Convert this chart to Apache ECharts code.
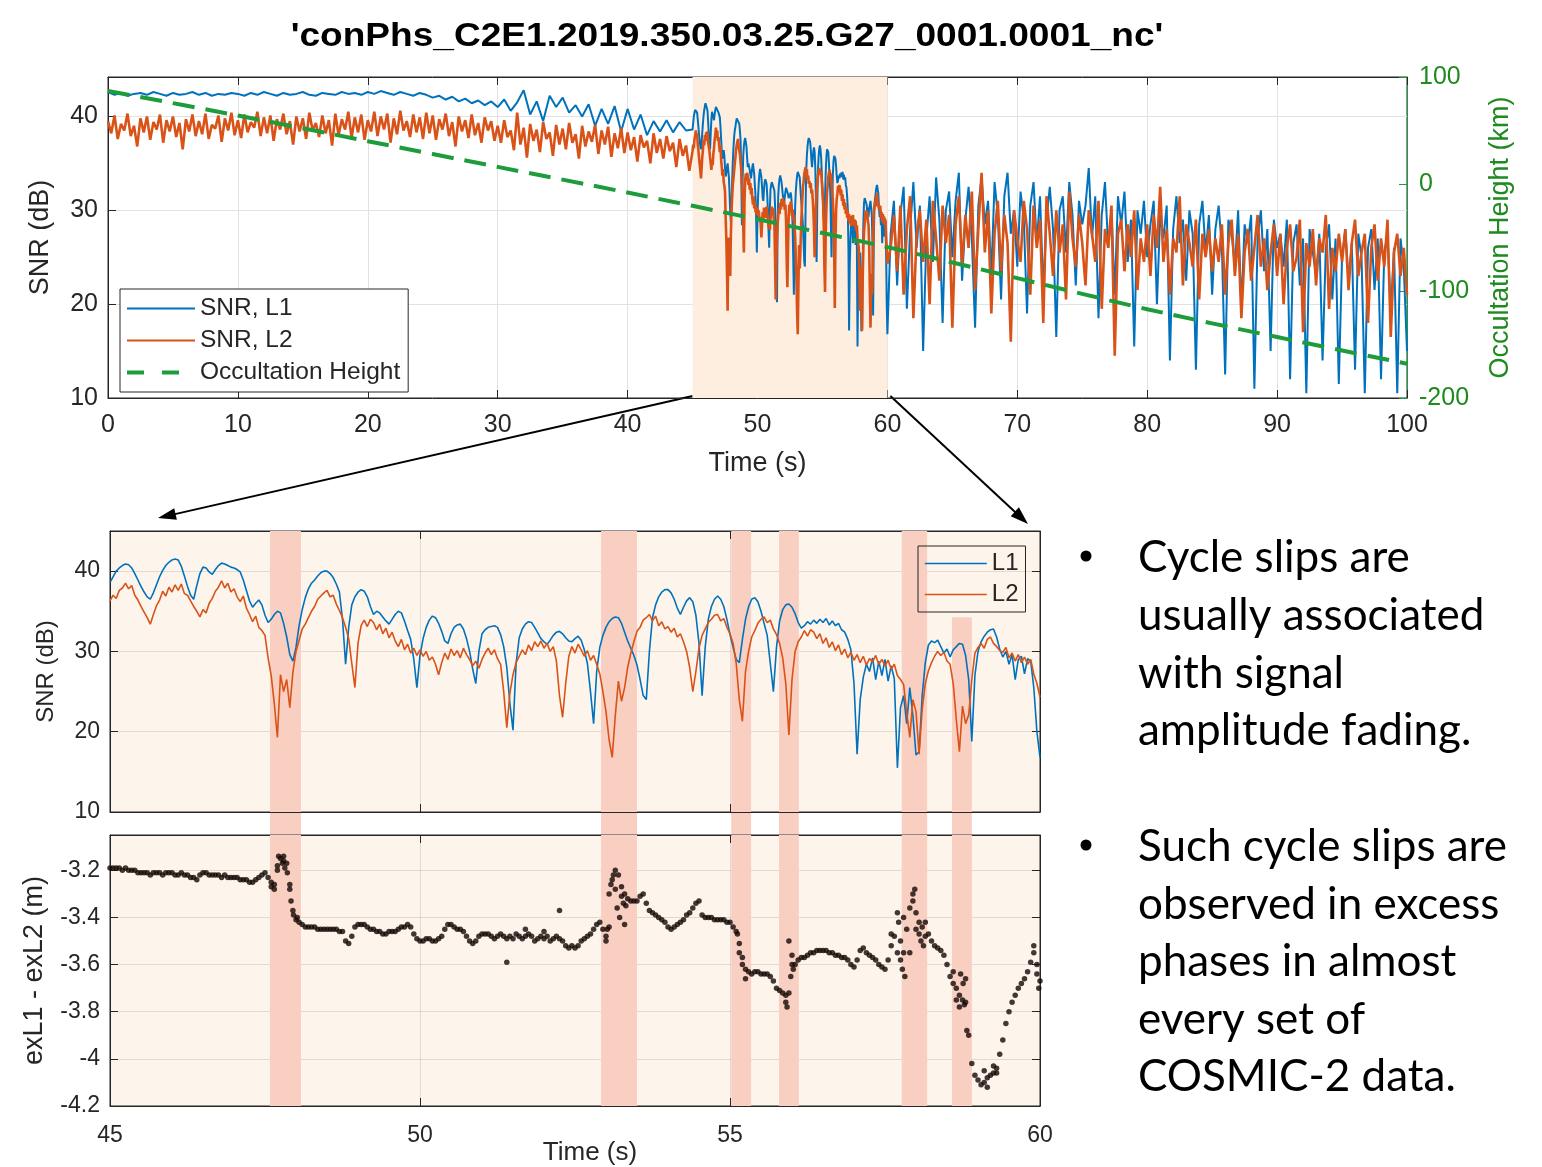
<!DOCTYPE html>
<html><head><meta charset="utf-8">
<script src="https://cdn.jsdelivr.net/npm/echarts@6/dist/echarts.min.js"></script>
<style>html,body{margin:0;padding:0;background:#fff}#c{width:1542px;height:1167px}</style>
</head><body><div id="c"></div>
<script>
const titleText = "'conPhs_C2E1.2019.350.03.25.G27_0001.0001_nc'";
// Top panel, SNR L1 for 0–44.5 s (every 0.5 s)
const topL1Early = [
42.6,42.3,42.5,42.2,42.4,42.5,42.3,42.6,42.4,42.2,42.5,42.3,42.4,42.6,42.3,42.5,42.2,42.4,42.3,42.5,
42.4,42.2,42.5,42.3,42.6,42.4,42.2,42.5,42.3,42.4,42.6,42.3,42.2,42.5,42.4,42.3,42.6,42.4,42.5,42.3,
42.6,42.4,42.7,42.5,42.3,42.6,42.4,42.2,42.5,42.3,42.0,42.2,41.8,42.1,41.6,41.9,41.4,41.7,41.2,41.6,
41.0,41.8,40.6,41.5,42.8,40.2,41.6,39.5,42.2,41.0,42.0,40.4,41.2,40.0,41.3,39.0,40.8,39.2,41.1,38.4,
40.8,38.6,40.2,38.0,39.5,38.4,39.6,38.3,39.4,38.5];
// Top panel, SNR L2 for 0–44.75 s (every 0.25 s)
const topL2Early = [
39.5,38.2,40.1,37.6,39.2,38.5,40.3,37.9,39.0,36.8,39.8,38.3,40.0,37.5,39.4,38.6,40.2,37.2,39.6,38.4,
40.0,37.8,39.3,36.5,39.7,38.4,40.2,37.9,39.5,38.1,40.3,37.6,39.1,38.7,40.1,37.3,39.8,38.5,40.4,38.0,
39.6,37.7,40.2,38.3,39.4,38.8,40.5,37.9,39.9,38.2,40.1,37.4,39.7,38.6,40.3,38.1,39.5,37.0,40.0,38.4,
39.8,37.6,40.4,38.5,39.3,37.8,40.1,38.2,39.6,36.9,40.3,38.0,39.7,38.6,40.5,37.7,39.9,38.3,40.2,37.5,
39.6,38.4,40.5,37.9,40.0,38.6,40.3,37.2,39.8,38.1,40.6,38.5,39.5,37.8,40.2,38.3,39.9,37.6,40.4,38.2,
40.1,37.5,39.7,38.6,40.3,37.9,39.4,36.8,40.0,38.4,39.6,37.7,40.2,38.0,39.3,37.2,39.9,38.5,39.5,37.4,
39.0,37.2,39.6,37.8,38.5,36.4,40.4,37.0,38.8,35.6,39.2,37.4,38.6,36.2,39.4,37.6,38.3,35.8,39.1,37.0,
38.7,36.5,39.3,37.2,38.1,35.5,39.0,36.8,38.4,37.3,39.1,36.0,38.5,37.0,38.9,35.7,38.2,36.6,38.8,36.1,
38.3,36.4,37.8,35.2,38.0,36.7,37.4,35.0,38.2,36.1,37.6,35.5,37.9,36.3,37.2,34.6,37.6,35.8,36.9,34.2];
// Top panel, SNR L1 for 60.25–100 s (every 0.25 s)
const topL1Late = [
27.5,31.0,22.0,29.5,32.5,19.5,28.0,33.0,26.0,30.5,15.0,27.0,31.5,24.5,33.5,29.0,18.0,30.0,32.0,25.0,
31.0,34.0,22.5,29.0,32.5,27.0,17.5,30.5,33.5,28.5,31.0,23.0,33.0,29.5,20.5,31.5,34.0,27.5,30.0,24.0,
32.0,29.0,19.0,30.5,33.0,26.5,31.5,21.5,29.0,32.5,28.0,16.5,30.0,31.5,25.5,33.0,29.5,22.0,31.0,28.5,
30.5,34.5,27.0,31.5,18.5,29.5,33.0,26.0,30.0,21.0,31.5,28.5,32.0,24.5,29.0,15.5,30.0,27.5,31.0,25.0,
28.5,31.0,20.0,29.5,27.0,30.5,14.0,28.0,31.5,26.5,29.0,22.5,30.0,27.5,13.0,28.5,31.0,25.5,29.5,21.0,
28.0,30.5,26.0,12.5,29.0,27.5,24.0,30.0,19.5,28.5,26.5,29.5,11.0,27.0,30.0,23.5,28.0,15.0,29.0,26.0,
27.5,24.0,29.0,12.0,26.5,28.5,22.0,27.0,10.5,28.0,25.5,23.0,27.5,14.0,26.0,28.5,20.5,27.0,11.5,25.0,
28.0,22.5,26.5,13.0,27.5,25.0,10.5,26.0,28.0,21.5,27.0,12.0,25.5,27.5,19.0,26.0,10.5,27.0,24.0,15.0];
// Top panel, SNR L2 for 60.25–100 s (every 0.25 s)
const topL2Late = [
26.0,29.5,23.5,30.5,21.0,28.0,31.5,18.5,27.5,30.0,24.5,29.0,20.0,31.0,27.0,22.5,30.5,26.5,29.5,17.5,
28.5,31.5,24.0,29.5,26.0,32.0,21.5,28.0,34.0,25.5,30.0,19.0,27.5,31.0,23.5,29.5,26.5,16.0,30.0,27.0,
24.5,31.0,28.0,21.0,30.5,26.0,29.0,18.0,31.5,27.5,23.0,30.0,25.5,28.5,20.5,32.0,27.0,24.0,29.5,26.5,
22.0,30.0,27.5,24.5,31.0,19.5,28.0,26.0,30.5,14.5,27.5,29.0,23.5,28.5,25.0,30.0,21.5,27.0,24.5,28.5,
23.0,29.5,26.0,32.5,24.5,28.0,21.0,27.0,25.5,31.5,22.0,28.5,26.5,24.0,29.0,20.5,27.5,25.0,28.0,23.5,
27.0,24.5,28.5,21.0,26.5,29.0,23.0,27.5,18.5,25.5,28.0,22.5,26.0,29.5,24.0,27.0,21.5,25.5,28.5,23.0,
27.5,20.0,26.0,28.5,23.5,25.0,29.0,17.0,26.5,24.0,28.0,22.0,27.0,25.5,29.5,19.5,26.0,23.5,27.5,24.5,
28.0,21.5,26.5,29.0,23.0,25.5,27.5,18.0,26.0,28.5,22.5,27.0,24.0,29.0,16.5,25.5,27.5,23.0,26.0,21.0];
// Occultation height (km)
const heightTime = [0,10,20,30,40,50,60,70,80,90,100];
const heightKm = [87,64,40,16,-8,-33,-59,-88,-117,-143,-168];
// Zoomed window 45–60 s (every 0.05 s)
const zoomL1 = [
38.6,39.3,40.0,40.4,40.7,40.9,40.8,40.4,39.7,38.9,38.1,37.4,36.8,36.5,37.3,38.3,39.3,40.1,40.7,41.1,
41.4,41.5,41.4,40.6,39.4,38.1,37.0,36.5,38.2,39.7,40.5,40.4,39.9,39.6,40.2,40.7,41.0,40.9,40.7,40.5,
40.4,40.2,39.9,38.9,37.6,36.3,35.5,36.0,36.4,35.8,34.5,33.6,34.0,34.6,35.0,34.8,33.5,31.8,29.6,28.8,
30.5,33.2,35.2,36.7,37.8,38.5,38.9,39.4,39.8,40.0,40.0,39.7,39.2,38.4,37.4,34.0,28.4,33.0,35.8,36.8,
37.4,37.7,37.5,36.8,35.6,34.6,35.0,34.8,34.3,33.8,33.4,34.0,34.6,35.0,34.8,33.8,32.6,31.5,29.0,25.5,
29.5,31.6,33.0,33.9,34.4,34.2,33.5,32.5,31.3,31.0,32.2,33.0,33.3,33.4,32.8,31.6,30.0,27.8,26.0,30.0,
32.2,32.7,33.0,33.1,33.2,33.0,32.1,30.6,28.0,23.5,20.2,28.5,31.7,32.8,33.4,33.7,33.6,33.0,32.3,31.6,
31.2,30.9,31.4,32.0,32.4,32.5,32.2,31.7,31.3,31.2,31.6,31.9,31.4,30.2,28.5,25.0,21.0,27.5,30.5,32.0,
33.0,33.7,34.1,34.3,34.2,33.5,32.4,31.3,30.4,29.5,28.3,26.5,24.5,24.0,30.0,34.2,35.8,36.8,37.4,37.7,
37.7,37.3,36.5,35.4,34.6,35.5,36.3,36.7,36.2,34.5,31.0,24.5,30.5,34.0,35.6,36.5,36.9,36.5,35.6,34.0,
32.1,30.5,29.0,28.6,31.5,34.0,35.6,36.5,36.7,36.2,35.0,33.5,32.0,28.5,25.0,30.5,33.8,35.2,35.8,35.9,
35.5,34.7,33.6,32.9,33.2,33.7,33.4,33.9,33.5,34.0,33.6,34.1,33.3,33.8,33.2,33.5,32.7,32.4,31.5,30.2,
26.0,17.2,24.0,26.8,28.4,27.5,29.2,26.5,28.8,27.0,29.0,26.3,28.2,26.6,15.5,23.0,24.5,21.0,25.5,22.0,
17.1,17.5,24.5,28.6,30.8,31.3,31.1,31.4,30.6,29.8,30.3,29.3,30.2,30.6,31.0,30.9,29.5,26.5,18.8,27.0,
30.0,31.2,31.9,32.4,32.7,32.8,31.8,30.3,29.3,30.0,28.4,29.6,26.5,29.0,29.4,27.2,29.1,28.8,25.5,20.0,16.8];
const zoomL2 = [
36.3,37.0,36.6,37.6,37.9,38.5,37.8,38.2,37.0,36.4,35.6,34.9,34.2,33.4,34.6,35.7,36.4,37.5,36.9,38.0,
37.4,38.3,37.6,38.4,37.2,37.0,36.3,35.6,35.0,34.3,35.2,34.8,36.0,36.6,37.5,38.0,38.8,37.9,38.5,37.4,
37.8,36.8,36.2,36.9,35.4,34.6,33.7,34.4,33.0,32.6,32.0,29.2,27.0,23.5,19.3,27.1,25.0,26.5,23.0,27.4,
30.0,31.4,32.8,33.4,34.2,35.0,35.6,36.5,36.9,37.3,37.6,36.8,37.0,35.9,35.1,34.2,33.0,31.6,28.5,25.5,
31.0,33.2,33.9,33.1,34.0,33.6,32.7,33.4,32.2,32.9,31.7,32.4,31.3,30.6,31.5,30.2,30.9,29.8,30.4,29.5,
30.2,29.4,30.0,28.9,29.3,28.4,27.1,28.6,29.8,29.0,30.3,29.5,30.1,29.2,30.4,29.6,29.0,28.2,28.8,27.9,
29.0,29.8,30.4,29.6,30.2,29.1,28.4,25.0,20.5,24.8,27.1,28.6,29.4,30.2,29.6,30.8,30.1,31.2,30.6,31.3,
30.4,31.0,30.0,30.6,28.8,24.5,21.8,26.0,29.4,30.6,29.8,30.9,30.2,29.4,30.1,28.9,29.5,28.4,27.2,25.0,
22.5,19.0,16.8,22.0,26.3,23.8,25.5,28.0,29.8,31.2,32.5,33.0,33.9,34.2,34.6,33.8,34.4,33.2,33.7,32.8,
33.1,32.4,32.9,31.8,32.2,31.2,30.0,28.0,25.0,27.5,30.4,32.0,32.8,33.6,34.0,34.5,34.6,33.8,34.1,33.0,
32.2,31.0,28.5,24.0,21.3,27.5,30.0,31.8,32.6,33.5,34.0,34.3,33.6,33.9,32.8,32.1,31.0,29.2,26.0,19.6,
26.5,30.0,31.2,31.8,32.6,31.9,32.7,32.4,31.6,32.2,31.0,31.7,30.5,31.2,30.1,30.8,29.6,30.3,29.2,29.9,
28.9,29.6,28.6,29.4,28.3,29.1,28.7,29.5,28.4,29.0,28.2,28.9,27.8,28.4,27.0,26.5,25.9,22.4,19.3,24.0,
22.5,17.2,22.8,26.0,27.6,28.6,29.4,30.0,29.5,29.9,28.8,28.4,26.0,21.5,17.5,23.2,21.0,22.1,26.5,29.8,
30.5,31.0,30.4,31.5,31.8,31.0,30.6,30.1,29.9,30.5,29.2,29.8,28.8,29.6,28.6,29.3,28.4,29.0,27.2,26.0,24.3];
// exL1 - exL2 (m), 45–60 s every 0.05 s
const phaseDiff = [
-3.19,-3.19,-3.19,-3.19,-3.2,-3.19,-3.2,-3.2,-3.2,-3.21,-3.21,-3.21,-3.21,-3.22,-3.21,-3.21,-3.21,-3.22,-3.21,-3.21,
-3.21,-3.22,-3.22,-3.21,-3.22,-3.22,-3.23,-3.23,-3.24,-3.22,-3.21,-3.21,-3.22,-3.22,-3.22,-3.22,-3.23,-3.22,-3.23,-3.23,
-3.23,-3.23,-3.24,-3.24,-3.24,-3.25,-3.25,-3.24,-3.23,-3.22,-3.21,-3.23,-3.25,-3.26,-3.2,-3.15,-3.16,-3.17,-3.26,-3.37,
-3.41,-3.42,-3.43,-3.44,-3.44,-3.44,-3.44,-3.45,-3.45,-3.45,-3.45,-3.45,-3.45,-3.45,-3.46,-3.46,-3.5,-3.51,-3.48,-3.44,
-3.43,-3.43,-3.43,-3.44,-3.45,-3.45,-3.46,-3.46,-3.47,-3.47,-3.46,-3.46,-3.46,-3.45,-3.44,-3.44,-3.43,-3.44,-3.47,-3.49,
-3.5,-3.5,-3.49,-3.49,-3.5,-3.5,-3.49,-3.48,-3.45,-3.43,-3.43,-3.44,-3.45,-3.45,-3.46,-3.48,-3.5,-3.51,-3.5,-3.48,
-3.47,-3.47,-3.47,-3.48,-3.49,-3.48,-3.47,-3.48,-3.49,-3.48,-3.49,-3.47,-3.48,-3.49,-3.48,-3.47,-3.48,-3.5,-3.49,-3.48,
-3.49,-3.48,-3.5,-3.49,-3.48,-3.49,-3.5,-3.52,-3.53,-3.52,-3.53,-3.52,-3.5,-3.49,-3.48,-3.47,-3.45,-3.43,-3.42,-3.45,
-3.48,-3.44,-3.24,-3.2,-3.22,-3.27,-3.3,-3.32,-3.33,-3.33,-3.33,-3.31,-3.3,-3.34,-3.37,-3.38,-3.39,-3.4,-3.41,-3.42,
-3.44,-3.45,-3.44,-3.43,-3.42,-3.41,-3.39,-3.38,-3.36,-3.34,-3.33,-3.39,-3.4,-3.4,-3.4,-3.41,-3.41,-3.41,-3.41,-3.42,
-3.42,-3.44,-3.46,-3.51,-3.57,-3.62,-3.63,-3.64,-3.63,-3.63,-3.64,-3.64,-3.64,-3.65,-3.67,-3.7,-3.71,-3.72,-3.73,-3.72,
-3.6,-3.6,-3.58,-3.57,-3.57,-3.56,-3.55,-3.55,-3.54,-3.54,-3.54,-3.54,-3.55,-3.55,-3.56,-3.56,-3.57,-3.57,-3.58,-3.6,
-3.61,-3.58,-3.54,-3.53,-3.55,-3.56,-3.57,-3.58,-3.6,-3.61,-3.62,-3.58,-3.52,-3.48,-3.55,-3.5,-3.4,-3.45,-3.55,-3.3,
-3.45,-3.47,-3.44,-3.48,-3.47,-3.5,-3.52,-3.53,-3.54,-3.56,-3.6,-3.65,-3.68,-3.7,-3.73,-3.75,-3.76,-3.9,-4.02,-4.07,
-4.09,-4.11,-4.1,-4.08,-4.07,-4.06,-4.04,-3.98,-3.92,-3.85,-3.8,-3.76,-3.73,-3.7,-3.68,-3.66,-3.63,-3.59,-3.55,-3.6,-3.67];
// Scattered extra phase points during slips [time, value]
const phaseOutliers = [
[47.6,-3.27],[47.65,-3.28],[47.7,-3.18],[47.72,-3.14],[47.78,-3.17],[47.8,-3.14],[47.82,-3.19],[47.86,-3.21],
[47.9,-3.28],[47.92,-3.33],[47.96,-3.39],[48.02,-3.40],[51.4,-3.59],[52.25,-3.37],[51.7,-3.45],[52.0,-3.46],
[53.0,-3.50],[53.02,-3.45],[53.05,-3.3],[53.08,-3.26],[53.12,-3.22],[53.15,-3.28],[53.18,-3.36],[53.22,-3.4],
[53.25,-3.31],[53.28,-3.34],[53.32,-3.35],[53.3,-3.43],[55.12,-3.47],[55.15,-3.55],[55.2,-3.6],[55.25,-3.66],
[55.9,-3.76],[55.92,-3.78],[55.95,-3.50],[55.98,-3.65],[56.02,-3.62],[56.0,-3.56],
[57.6,-3.47],[57.7,-3.38],[57.72,-3.42],[57.75,-3.58],[57.78,-3.62],[57.8,-3.55],[57.82,-3.65],[57.9,-3.36],
[57.95,-3.33],[57.98,-3.28],[58.0,-3.38],[58.05,-3.42],[58.08,-3.5],[58.12,-3.52],[58.15,-3.42],
[58.6,-3.63],[58.65,-3.75],[58.7,-3.78],[58.72,-3.64],[58.76,-3.68],[58.78,-3.77],[58.8,-3.66],[58.82,-3.88],
[59.1,-4.05],[59.15,-4.12],[59.25,-4.03],[59.3,-4.06],[59.9,-3.52],[59.95,-3.64],[59.98,-3.7]];
// Cycle slip intervals (s)
const slipBands = [[47.58,48.08],[52.92,53.5],[55.02,55.34],[55.79,56.11],[57.77,58.18],[58.58,58.9]];
const lastBandTopSNR = 34.25;
const bulletGroup1 = ['Cycle slips are','usually associated','with signal','amplitude fading.'];
const bulletGroup2 = ['Such cycle slips are','observed in excess','phases in almost','every set of','COSMIC-2 data.'];

function seq(start, step, arr){ return arr.map((v,i)=>[+(start+i*step).toFixed(2), v]); }
const topL1 = seq(0,0.5,topL1Early).concat(seq(45,0.05,zoomL1), seq(60.25,0.25,topL1Late));
const topL2 = seq(0,0.25,topL2Early).concat(seq(45,0.05,zoomL2), seq(60.25,0.25,topL2Late));
const heightData = heightTime.map((t,i)=>[t, heightKm[i]]);
const midL1 = seq(45,0.05,zoomL1), midL2 = seq(45,0.05,zoomL2);
const phaseData = seq(45,0.05,phaseDiff).concat(phaseOutliers);

const FONT = 'Liberation Sans';
const AX = '#262626';
const BLUE = '#0072BD', ORANGE = '#D95319', GREEN = '#1c9c3a', GREENTXT = '#1f8a1f';
const PEACH = '#fdf5eb', SLIP = '#f9cfc1';

function xa(grid, min, max, interval, pos, opts){
  return Object.assign({
    gridIndex: grid, type:'value', min, max, interval, position: pos,
    axisLine:{show:true, onZero:false, lineStyle:{color:AX, width:1}},
    axisTick:{show:true, inside:true, length:8, lineStyle:{color:AX}},
    axisLabel:{show:false},
    splitLine:{show:false}
  }, opts||{});
}
function ya(grid, min, max, interval, pos, opts){
  return Object.assign({
    gridIndex: grid, type:'value', min, max, interval, position: pos,
    axisLine:{show:true, onZero:false, lineStyle:{color:AX, width:1}},
    axisTick:{show:true, inside:true, length:8, lineStyle:{color:AX}},
    axisLabel:{show:false},
    splitLine:{show:false}
  }, opts||{});
}
const gridSplit = {show:true, lineStyle:{color:'#e2e2e2', width:1}};
const peachSplit = {show:true, lineStyle:{color:'rgba(0,0,0,0.11)', width:1}};

const chart = echarts.init(document.getElementById('c'));
const option = {
  animation:false,
  backgroundColor:'#fff',
  grid:[
    {left:108, top:77, width:1299, height:321, show:true, backgroundColor:'#fff', borderColor:AX, borderWidth:1, outerBoundsMode:'none', containLabel:false},
    {left:110, top:531, width:930, height:281, show:true, backgroundColor:PEACH, borderColor:AX, borderWidth:1, outerBoundsMode:'none', containLabel:false},
    {left:110, top:835, width:930, height:271, show:true, backgroundColor:PEACH, borderColor:AX, borderWidth:1, outerBoundsMode:'none', containLabel:false}
  ],
  xAxis:[
    xa(0,0,100,10,'bottom',{axisLabel:{show:true, fontSize:25, color:AX, margin:15, fontFamily:FONT},
      splitLine:gridSplit, name:'Time (s)', nameLocation:'middle', nameGap:52,
      nameTextStyle:{fontSize:27, color:AX, fontFamily:FONT}}),
    xa(0,0,100,10,'top'),
    xa(1,45,60,5,'bottom',{splitLine:peachSplit}),
    xa(1,45,60,5,'top'),
    xa(2,45,60,5,'bottom',{axisLabel:{show:true, fontSize:23, color:AX, margin:18, fontFamily:FONT},
      splitLine:peachSplit, name:'Time (s)', nameLocation:'middle', nameGap:34, nameMoveOverlap:false,
      nameTextStyle:{fontSize:26, color:AX, fontFamily:FONT, padding:[0,0,0,30]}}),
    xa(2,45,60,5,'top')
  ],
  yAxis:[
    ya(0,10,44.2,10,'left',{axisLabel:{show:true, fontSize:25, color:AX, margin:10, fontFamily:FONT, showMaxLabel:false},
      splitLine:gridSplit, name:'SNR (dB)', nameLocation:'middle', nameGap:54, nameRotate:90,
      nameTextStyle:{fontSize:27, color:AX, fontFamily:FONT}}),
    ya(0,-200,100,100,'right',{axisLine:{show:true, onZero:false, lineStyle:{color:GREEN, width:1}},
      axisTick:{show:true, inside:true, length:8, lineStyle:{color:GREEN}},
      axisLabel:{show:true, fontSize:25, color:GREENTXT, margin:12, fontFamily:FONT},
      name:'Occultation Height (km)', nameLocation:'middle', nameGap:80, nameRotate:90,
      nameTextStyle:{fontSize:27, color:GREENTXT, fontFamily:FONT}}),
    ya(1,10,45,10,'left',{axisLabel:{show:true, fontSize:23, color:AX, margin:10, fontFamily:FONT, showMaxLabel:false},
      splitLine:peachSplit, name:'SNR (dB)', nameLocation:'middle', nameGap:52, nameRotate:90,
      nameTextStyle:{fontSize:24, color:AX, fontFamily:FONT}}),
    ya(1,10,45,10,'right'),
    ya(2,-4.2,-3.05,0.2,'left',{axisLabel:{show:true, fontSize:23, color:AX, margin:10, fontFamily:FONT, showMaxLabel:false},
      splitLine:peachSplit, name:'exL1 - exL2 (m)', nameLocation:'middle', nameGap:62, nameRotate:90,
      nameTextStyle:{fontSize:27, color:AX, fontFamily:FONT}}),
    ya(2,-4.2,-3.05,0.2,'right')
  ],
  legend:[
    {data:[{name:'SNR, L1', lineStyle:{width:2}},{name:'SNR, L2', lineStyle:{width:2}},
           {name:'Occultation Height', lineStyle:{width:4, type:[17,18]}}],
     orient:'vertical', left:120, top:289,
     itemWidth:68, itemHeight:14, itemGap:7, padding:[7,8,7,5], borderColor:AX, borderWidth:1,
     backgroundColor:'#fff', selectedMode:false, itemStyle:{opacity:0},
     textStyle:{fontSize:24.5, color:AX, fontFamily:FONT, lineHeight:25}},
    {data:[{name:'L1', lineStyle:{width:1.6}},{name:'L2', lineStyle:{width:1.6}}],
     orient:'vertical', left:918, top:546,
     itemWidth:62, itemHeight:14, itemGap:6, padding:[5,7,5,6], borderColor:AX, borderWidth:1,
     backgroundColor:'transparent', selectedMode:false, itemStyle:{opacity:0},
     textStyle:{fontSize:24, color:AX, fontFamily:FONT, lineHeight:25}}
  ],
  series:[
    {type:'line', name:'_shade', xAxisIndex:0, yAxisIndex:0, data:[], z:1, silent:true,
     markArea:{silent:true, itemStyle:{color:'#fdeee0'}, data:[[{xAxis:45},{xAxis:60}]]}},
    {type:'line', name:'SNR, L1', xAxisIndex:0, yAxisIndex:0, data:topL1, showSymbol:false, symbol:'none',
     color:BLUE, lineStyle:{color:BLUE, width:2}, z:3},
    {type:'line', name:'SNR, L2', xAxisIndex:0, yAxisIndex:0, data:topL2, showSymbol:false, symbol:'none',
     color:ORANGE, lineStyle:{color:ORANGE, width:2.6}, z:4},
    {type:'line', name:'Occultation Height', xAxisIndex:0, yAxisIndex:1, data:heightData, showSymbol:false, symbol:'none',
     smooth:0.3, color:GREEN, lineStyle:{color:GREEN, width:4, type:[22,11]}, z:5},
    {type:'line', name:'_slipsMid', xAxisIndex:2, yAxisIndex:2, data:[], z:1, silent:true,
     markArea:{silent:true, itemStyle:{color:SLIP}, data: slipBands.map((b,i)=> i===slipBands.length-1
       ? [{xAxis:b[0], yAxis:10},{xAxis:b[1], yAxis:lastBandTopSNR}] : [{xAxis:b[0]},{xAxis:b[1]}])}},
    {type:'line', name:'L1', xAxisIndex:2, yAxisIndex:2, data:midL1, showSymbol:false, symbol:'none',
     color:BLUE, lineStyle:{color:BLUE, width:1.6}, z:3},
    {type:'line', name:'L2', xAxisIndex:2, yAxisIndex:2, data:midL2, showSymbol:false, symbol:'none',
     color:ORANGE, lineStyle:{color:ORANGE, width:1.6}, z:4},
    {type:'line', name:'_slipsBot', xAxisIndex:4, yAxisIndex:4, data:[], z:1, silent:true,
     markArea:{silent:true, itemStyle:{color:SLIP}, data: slipBands.map(b=>[{xAxis:b[0]},{xAxis:b[1]}])}},
    {type:'scatter', name:'exL1 - exL2', xAxisIndex:4, yAxisIndex:4, data:phaseData, symbolSize:5.5,
     itemStyle:{color:'#140805'}, z:3}
  ]
};
chart.setOption(option);

// decorations derived from the axes
const g = [];
g.push({type:'text', x:727, y:37, scaleX:1.09, style:{text:titleText, fontSize:34, fontWeight:'bold', fontFamily:FONT,
  fill:'#000', align:'center', verticalAlign:'middle'}});
function arrow(s, e){
  const dx=e[0]-s[0], dy=e[1]-s[1], L=Math.hypot(dx,dy), ux=dx/L, uy=dy/L;
  const bx=e[0]-ux*18, by=e[1]-uy*18, px=-uy, py=ux;
  g.push({type:'line', shape:{x1:s[0], y1:s[1], x2:bx+ux*4, y2:by+uy*4}, style:{stroke:'#000', lineWidth:2}});
  g.push({type:'polygon', shape:{points:[[e[0],e[1]],[bx+px*6,by+py*6],[bx-px*6,by-py*6]]}, style:{fill:'#000'}});
}
const p45 = chart.convertToPixel({xAxisIndex:0, yAxisIndex:0}, [45,10]);
const p60 = chart.convertToPixel({xAxisIndex:0, yAxisIndex:0}, [60,10]);
const m45 = chart.convertToPixel({xAxisIndex:2, yAxisIndex:2}, [45,45]);
const m60 = chart.convertToPixel({xAxisIndex:2, yAxisIndex:2}, [60,45]);
arrow([p45[0], p45[1]-2], [m45[0]+48, m45[1]-13]);
arrow([p60[0]+3, p60[1]-2], [m60[0]-12, m60[1]-7]);
// slip bands continue through the gap between the two lower panels
const midBottom = chart.convertToPixel({xAxisIndex:2, yAxisIndex:2}, [45,10])[1];
const botTop = chart.convertToPixel({xAxisIndex:4, yAxisIndex:4}, [45,-3.05])[1];
slipBands.forEach(b=>{
  const a = chart.convertToPixel({xAxisIndex:4, yAxisIndex:4}, [b[0],-3.5])[0];
  const c = chart.convertToPixel({xAxisIndex:4, yAxisIndex:4}, [b[1],-3.5])[0];
  g.push({type:'rect', shape:{x:a, y:midBottom+0.5, width:c-a, height:botTop-midBottom-1}, style:{fill:SLIP}, z:-1});
});
const TF = 'Lato';
bulletGroup1.forEach((t,i)=>{
  g.push({type:'text', x:1138, y:558+i*57.7, style:{text:t, fontSize:44, fontFamily:TF, fill:'#000', verticalAlign:'middle'}});
});
bulletGroup2.forEach((t,i)=>{
  g.push({type:'text', x:1138, y:847+i*57.5, style:{text:t, fontSize:44, fontFamily:TF, fill:'#000', verticalAlign:'middle'}});
});
[558,847].forEach(y=>{
  g.push({type:'circle', shape:{cx:1086, cy:y-2, r:5.5}, style:{fill:'#000'}});
});
chart.setOption({graphic:g});
</script></body></html>
